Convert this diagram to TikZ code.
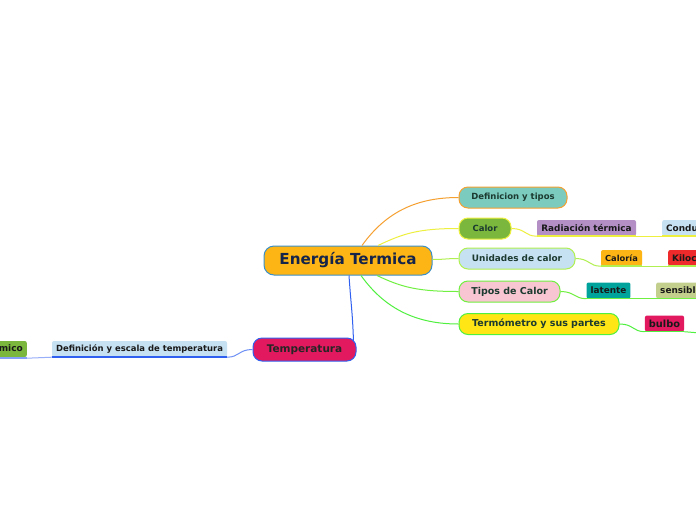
\documentclass[tikz,border=0pt]{standalone}
\usepackage{fontspec}
\setmainfont{DejaVu Sans}
\usetikzlibrary{calc}
\definecolor{cfill}{HTML}{FDB515}
\definecolor{cborder}{HTML}{3A8FC8}
\definecolor{ctext}{HTML}{15244A}
\definecolor{kdark}{HTML}{1C3A30}
\definecolor{tealf}{HTML}{7CCBBF}
\definecolor{greenf}{HTML}{7AB73C}
\definecolor{bluef}{HTML}{C6E1F2}
\definecolor{pinkf}{HTML}{F8C6D2}
\definecolor{yellowf}{HTML}{FFE614}
\definecolor{crimf}{HTML}{E2195E}
\definecolor{purplef}{HTML}{B38FC6}
\definecolor{redf}{HTML}{EE2A2A}
\definecolor{teal2f}{HTML}{00A39C}
\definecolor{olivef}{HTML}{C3CF8C}
\definecolor{lorange}{HTML}{F5A030}
\definecolor{lyellow}{HTML}{EEF040}
\definecolor{llgreen}{HTML}{B0F050}
\definecolor{lgreen}{HTML}{70F040}
\definecolor{lgreen2}{HTML}{50F040}
\definecolor{lblue}{HTML}{3060F0}
\tikzset{
  x=1pt, y=-1pt,
  mainbox/.style={draw=cborder, line width=1pt, fill=cfill, rounded corners=10pt,
    minimum width=168pt, minimum height=29pt, inner sep=0pt, text=ctext,
    font=\bfseries\fontsize{15.2}{17}\selectfont},
  kidbox/.style={line width=1pt, rounded corners=9pt, inner sep=0pt, text=kdark,
    minimum height=21pt, font=\bfseries\fontsize{8.5}{10}\selectfont},
  kidbig/.style={kidbox, font=\bfseries\fontsize{9.5}{11}\selectfont},
  subbox/.style={rounded corners=2pt, inner xsep=4pt, inner ysep=0pt,
    minimum height=16pt, text=black!90, font=\bfseries\fontsize{8.9}{10}\selectfont},
  conn/.style={line width=1pt},
  uline/.style={line width=1.5pt},
}
\begin{document}
\begin{tikzpicture}
\useasboundingbox (0,0) rectangle (696,520);
\fill[white] (0,0) rectangle (696,520);
\clip (0,0) rectangle (696,520);

% central
\node[mainbox] (c) at (348,260.5) {Energía Termica};

% right children
\node[kidbox, draw=lorange, fill=tealf, minimum width=108pt] (def) at (513,197.5) {Definicion y tipos};
\node[kidbox, draw=lyellow, fill=greenf, minimum width=52pt] (cal) at (485,228.5) {Calor};
\node[kidbox, draw=llgreen, fill=bluef, minimum width=116pt, font=\bfseries\fontsize{8.9}{10}\selectfont] (uni) at (517,258.5) {Unidades de calor};
\node[kidbig, draw=lgreen, fill=pinkf, minimum width=101pt] (tip) at (509.5,291.5) {Tipos de Calor};
\node[kidbig, draw=lgreen2, fill=yellowf, minimum width=160pt] (ter) at (539,324) {Termómetro y sus partes};

% left child
\node[kidbox, draw=lblue, fill=crimf, minimum width=103pt, minimum height=23pt,
  font=\bfseries\fontsize{10.5}{12}\selectfont, text=black!85] (tem) at (304.5,349.5) {Temperatura};

% sub nodes
\node[subbox, fill=purplef, minimum width=99pt] (rad) at (586.5,228) {Radiación térmica};
\node[subbox, fill=bluef, anchor=west] (con) at (662,228) {Conducción};
\node[subbox, fill=cfill, minimum width=41pt, font=\bfseries\fontsize{8.3}{10}\selectfont] (clr) at (621.5,258) {Caloría};
\node[subbox, fill=redf, anchor=west] (kil) at (668,258) {Kilocaloría};
\node[subbox, fill=teal2f, minimum width=43pt] (lat) at (608.5,290.5) {latente};
\node[subbox, fill=olivef, anchor=west] (sen) at (656,290.5) {sensible};
\node[subbox, fill=crimf, minimum width=39pt, font=\bfseries\fontsize{9.8}{11}\selectfont] (bul) at (664.5,323.5) {bulbo};
\node[subbox, fill=bluef, minimum width=175pt, font=\bfseries\fontsize{8.45}{10}\selectfont] (esc) at (139.5,349) {Definición y escala de temperatura};
\node[subbox, fill=greenf, anchor=east, font=\bfseries\fontsize{9}{10}\selectfont] (equ) at (27,349) {Equilibrio térmico};

% central connectors
\draw[conn, lorange] ($(c.north)+(14,0)$) .. controls +(25,-35) and +(-40,0) .. (def.west);
\draw[conn, lyellow] ($(c.north)+(30,0)$) .. controls +(25,-12) and +(-40,0) .. (cal.west);
\draw[conn, llgreen] ($(c.east)+(0,-1)$) .. controls +(12,0) and +(-12,0) .. (uni.west);
\draw[conn, lgreen] ($(c.south)+(29,0)$) .. controls +(25,12) and +(-40,0) .. (tip.west);
\draw[conn, lgreen2] ($(c.south)+(13,0)$) .. controls +(25,35) and +(-40,0) .. (ter.west);
\draw[conn, lblue] ($(c.south)+(1,0)$) .. controls +(2,30) and +(-1,-30) .. ($(tem.north east)+(-3,4)$);

% sub connectors
\draw[conn, lyellow] (cal.east) .. controls +(14,0) and +(-12,0) .. (rad.south west);
\draw[uline, lyellow] (rad.south west) -- (rad.south east);
\draw[conn, lyellow] (rad.south east) .. controls +(12,0) and +(-12,0) .. (con.south west);
\draw[uline, lyellow] (con.south west) -- (con.south east);

\draw[conn, llgreen] (uni.east) .. controls +(14,0) and +(-12,0) .. (clr.south west);
\draw[uline, llgreen] (clr.south west) -- (clr.south east);
\draw[conn, llgreen] (clr.south east) .. controls +(12,0) and +(-12,0) .. (kil.south west);
\draw[uline, llgreen] (kil.south west) -- (kil.south east);

\draw[conn, lgreen] (tip.east) .. controls +(14,0) and +(-12,0) .. (lat.south west);
\draw[uline, lgreen] (lat.south west) -- (lat.south east);
\draw[conn, lgreen] (lat.south east) .. controls +(12,0) and +(-12,0) .. (sen.south west);
\draw[uline, lgreen] (sen.south west) -- (sen.south east);

\draw[conn, lgreen2] (ter.east) .. controls +(14,0) and +(-12,0) .. (bul.south west);
\draw[uline, lgreen2] (bul.south west) -- (bul.south east);
\coordinate (bend) at (700,333);
\draw[conn, lgreen2] (bul.south east) -- (bend);

\draw[conn, lblue!70] (tem.west) .. controls +(-14,0) and +(12,0) .. (esc.south east);
\draw[uline, lblue] (esc.south east) -- (esc.south west);
\draw[conn, lblue!50] (esc.south west) .. controls +(-12,0) and +(12,0) .. ($(equ.south east)+(0,1)$);
\draw[uline, lblue!60] ($(equ.south east)+(0,1)$) -- ($(equ.south west)+(0,1)$);
\end{tikzpicture}
\end{document}
